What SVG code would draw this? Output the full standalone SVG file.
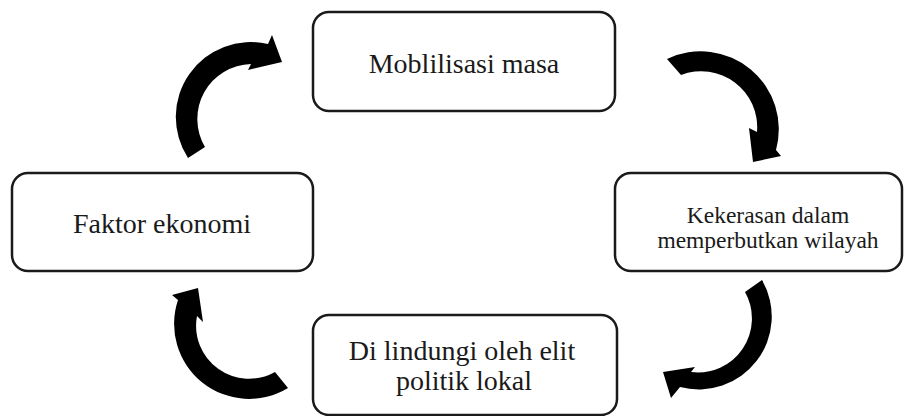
<svg xmlns="http://www.w3.org/2000/svg" width="908" height="416" viewBox="0 0 908 416">
<style>
.box{fill:#fff;stroke:#1a1a1a;stroke-width:2.5}
.t{font-family:"Liberation Serif","Times New Roman",serif;fill:#1a1a1a;text-anchor:middle}
.arr{fill:#000}
</style>
<rect width="908" height="416" fill="#fff"/>
<g id="connectors">
<path class="arr" d="M188,158 A75,75 0 0 1 268,44 L272,35 L282,62 L248,70 L251,64 A55,55 0 0 0 205,147 Z"/>
<path class="arr" d="M667,59 A78,78 0 0 1 776,150 L781,156 L753,162 L749,128 L757,132 A56,56 0 0 0 681,75 Z"/>
<path class="arr" d="M762,280 A73,73 0 0 1 680,387 L671,398 L663,372 L695,367 L691,372 A54,54 0 0 0 745,292 Z"/>
<path class="arr" d="M288,388 A75,75 0 0 1 178,300 L172,295 L198,288 L203,322 L197,316 A53,53 0 0 0 275,372 Z"/>
</g>
<g id="node-mobilisasi">
<rect class="box" x="313" y="12" width="302" height="99" rx="16"/>
<text class="t" x="464" y="73" font-size="28">Moblilisasi masa</text>
</g>
<g id="node-kekerasan">
<rect class="box" x="615" y="173" width="287" height="98" rx="16"/>
<text class="t" x="768" y="223" font-size="23.5">Kekerasan dalam</text>
<text class="t" x="768" y="248" font-size="23.5">memperbutkan wilayah</text>
</g>
<g id="node-faktor">
<rect class="box" x="12" y="173" width="301" height="98" rx="16"/>
<text class="t" x="162" y="233" font-size="28">Faktor ekonomi</text>
</g>
<g id="node-dilindungi">
<rect class="box" x="313" y="315" width="304" height="100" rx="16"/>
<text class="t" x="462" y="360" font-size="28">Di lindungi oleh elit</text>
<text class="t" x="464" y="390" font-size="28">politik lokal</text>
</g>
</svg>
